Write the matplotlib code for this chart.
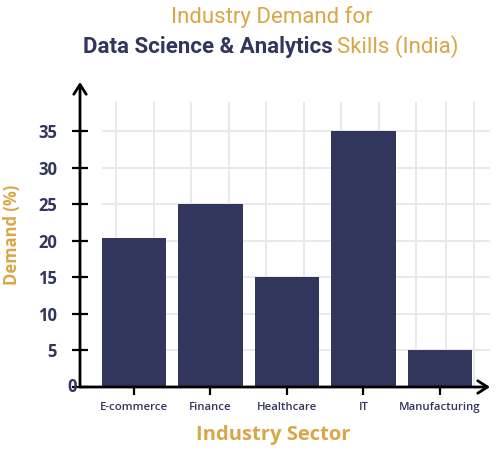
import matplotlib
matplotlib.use('agg')
import matplotlib.pyplot as plt
import numpy as np

sectors = ['E-commerce', 'Finance', 'Healthcare', 'IT', 'Manufacturing']
demand = [20.4, 25, 15, 35, 5]
y_ticks = [0, 5, 10, 15, 20, 25, 30, 35]

navy = '#33365C'
gold = '#D9A648'
grid_col = '#E9E9E9'

plt.rcParams['font.family'] = ['Open Sans', 'DejaVu Sans']

fig = plt.figure(figsize=(5, 4.5), dpi=100)
ax = fig.add_axes([80 / 500, 63 / 450, 410 / 500, 305 / 450])

x = np.arange(len(sectors))
ax.set_xlim(-0.706, 4.654)
ax.set_ylim(0, 41.7)

# background grid (decorative)
for gx in list(np.arange(-0.23, 3.8, 0.49)) + [4.08, 4.44]:
    ax.vlines(gx, 0, 38.9, color=grid_col, lw=1.4, zorder=0)
ax.hlines(y_ticks[1:], -0.42, 4.7, color=grid_col, lw=1.4, zorder=0)

ax.bar(x, demand, width=0.84, color=navy, zorder=2)

for s in ax.spines.values():
    s.set_visible(False)

# axes with open arrow heads
ax.annotate('', xy=(0, 1.0), xytext=(0, 0), xycoords='axes fraction',
            arrowprops=dict(arrowstyle='->,head_length=0.7,head_width=0.45',
                            lw=2, color='black', shrinkA=0, shrinkB=0))
ax.annotate('', xy=(1.0, 0), xytext=(0, 0), xycoords='axes fraction',
            arrowprops=dict(arrowstyle='->,head_length=0.7,head_width=0.45',
                            lw=2, color='black', shrinkA=0, shrinkB=0))

ax.set_yticks(y_ticks)
ax.set_yticklabels([''] + [str(v) for v in y_ticks[1:]], fontsize=12,
                   fontweight='bold', color=navy)
ax.tick_params(axis='y', direction='inout', length=11, width=1.6, color='black', pad=11)
ax.text(-0.008, 0, str(y_ticks[0]), transform=ax.get_yaxis_transform(),
        ha='right', va='center', fontsize=12, fontweight='bold', color=navy)

ax.set_xticks(x)
ax.set_xticklabels(sectors, fontsize=8.2, fontweight='semibold', color=navy)
ax.tick_params(axis='x', direction='out', length=6, width=1.6, color='black', pad=5)

ax.set_xlabel('Industry Sector', fontsize=14.5, fontweight='bold', color=gold)
ax.xaxis.set_label_coords((273 - 80) / 410, -0.125)
ax.set_ylabel('Demand (%)', fontsize=12, fontweight='bold', color=gold, labelpad=12)

# title
title_font = ['Roboto', 'DejaVu Sans']
fig.text(0.544, 0.962, 'Industry Demand for', ha='center', va='center',
         fontsize=16, color=gold, family=title_font)
t1 = fig.text(0.166, 0.896, 'Data Science & Analytics', ha='left', va='center',
              fontsize=16, fontweight='bold', color=navy, family=title_font)
fig.canvas.draw()
bb = t1.get_window_extent()
fig.text(bb.x1 / fig.bbox.width + 0.008, 0.896, 'Skills (India)', ha='left', va='center',
         fontsize=16, color=gold, family=title_font)

fig.savefig('out.png', dpi=100)
